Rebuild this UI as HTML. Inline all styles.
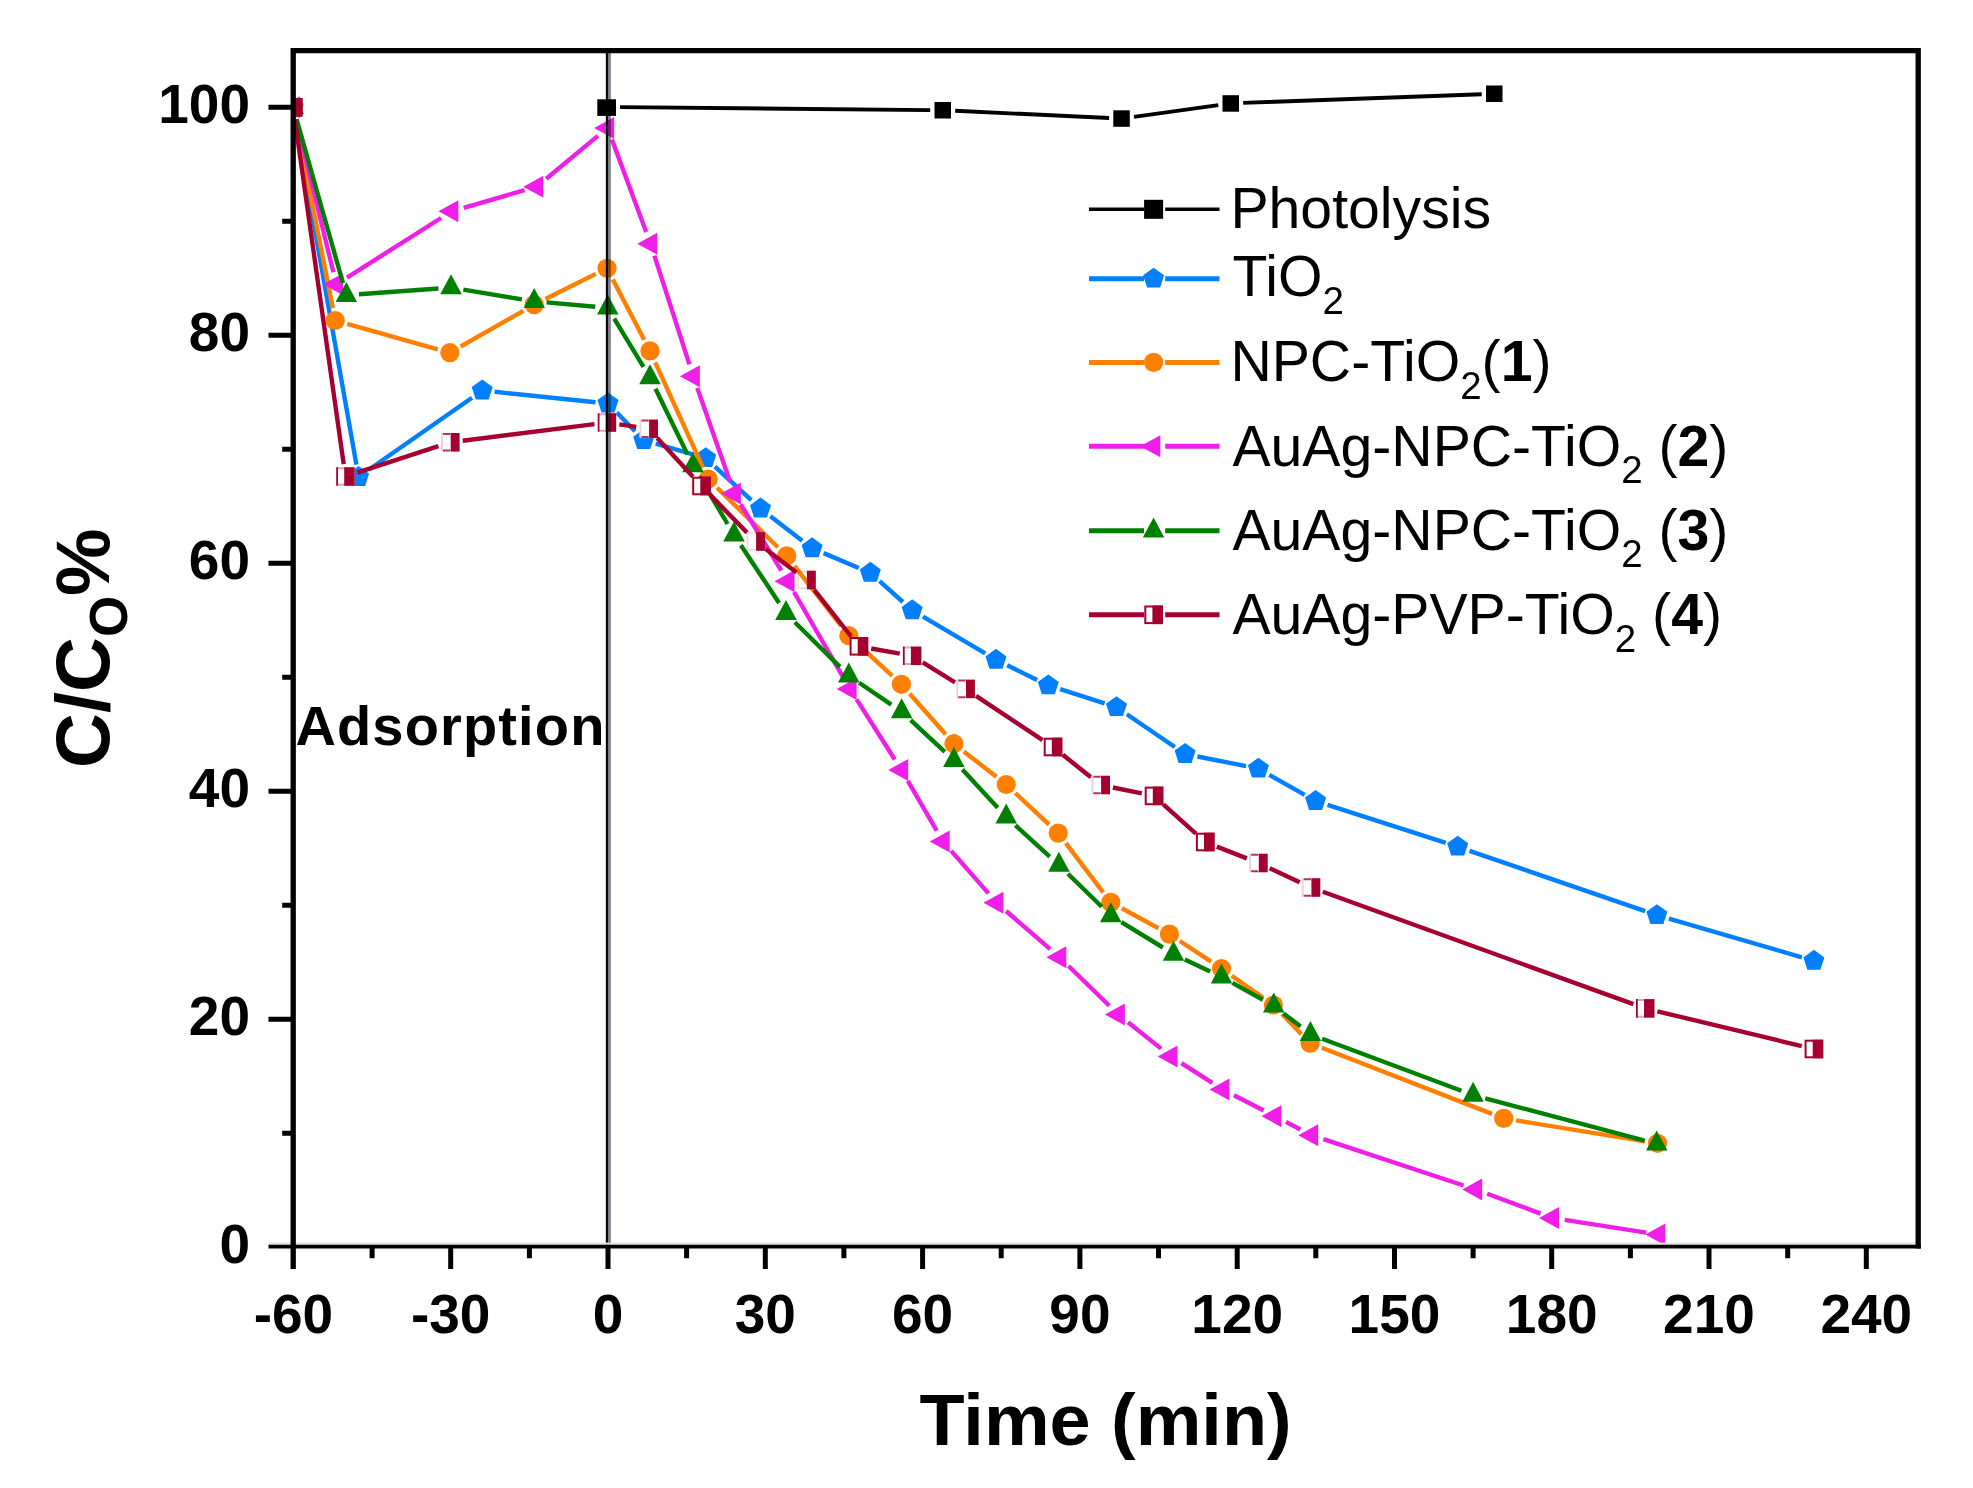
<!DOCTYPE html>
<html lang="en"><head><meta charset="utf-8"><title>Photocatalytic degradation chart</title>
<style>
html,body{margin:0;padding:0;background:#fff;}
body{width:1973px;height:1488px;overflow:hidden;}
svg{display:block;filter:blur(0.6px);}
text{font-family:"Liberation Sans",sans-serif;fill:#000;}
.b{font-weight:bold;}
.tick{font-size:55px;font-weight:bold;}
.leg{font-size:57.2px;}
.sub{font-size:38.5px;}
</style></head><body>
<svg width="1973" height="1488" viewBox="0 0 1973 1488">
<rect width="1973" height="1488" fill="#fff"/>
<defs><clipPath id="plot"><rect x="293.2" y="50.6" width="1625" height="1196"/></clipPath></defs>

<g clip-path="url(#plot)">
<g id="s-black">
<path d="M620 107.1L930.2 110.1M955.2 110.8L1109.1 118M1134 116.9L1218.3 105.1M1243.2 102.9L1481.7 94.2" stroke="#000000" stroke-width="3.9" fill="none"/>
<rect x="934.5" y="102" width="16.5" height="16.5" fill="#000000"/>
<rect x="1113.3" y="110.3" width="16.5" height="16.5" fill="#000000"/>
<rect x="1222.5" y="95.2" width="16.5" height="16.5" fill="#000000"/>
<rect x="1486" y="85.5" width="16.5" height="16.5" fill="#000000"/>
</g>
<g id="s-blue">
<path d="M295.4 119.6L356.4 464.7M368.8 469.8L472 397.7M494.6 391.8L595.6 402.2M616.7 412.5L635 431.2M655.7 443.7L693.7 454.7M714.9 466.7L751.3 500.1M770.4 516.2L802.2 540.7M823.6 553.1L858.8 568M879.6 581.1L902.9 602M923 616.7L985.2 653.4M1007.2 665.3L1037.1 679.9M1060.2 689.2L1104.6 703.4M1126.8 714.2L1174.8 747M1197.4 756.5L1246.1 766.2M1269.3 774.8L1304.7 794.9M1327.5 804.8L1445.8 842.9M1469.5 850.8L1645.1 911.1M1668.9 918.7L1801.9 957.3" stroke="#0080ff" stroke-width="4.4" fill="none"/>
<polygon points="293.2,96.3 303.7,103.9 299.7,116.2 286.7,116.2 282.7,103.9" fill="#0080ff"/>
<polygon points="358.6,466 369.1,473.6 365.1,485.9 352.1,485.9 348.1,473.6" fill="#0080ff"/>
<polygon points="482.2,379.5 492.7,387.1 488.7,399.4 475.7,399.4 471.7,387.1" fill="#0080ff"/>
<polygon points="608,392.5 618.5,400.1 614.5,412.4 601.5,412.4 597.5,400.1" fill="#0080ff"/>
<polygon points="643.7,429.2 654.2,436.8 650.2,449.1 637.2,449.1 633.2,436.8" fill="#0080ff"/>
<polygon points="705.7,447.2 716.2,454.8 712.2,467.1 699.2,467.1 695.2,454.8" fill="#0080ff"/>
<polygon points="760.5,497.6 771,505.2 767,517.5 754,517.5 750,505.2" fill="#0080ff"/>
<polygon points="812.1,537.3 822.6,544.9 818.6,557.2 805.6,557.2 801.6,544.9" fill="#0080ff"/>
<polygon points="870.3,561.8 880.8,569.4 876.8,581.7 863.8,581.7 859.8,569.4" fill="#0080ff"/>
<polygon points="912.2,599.3 922.7,606.9 918.7,619.2 905.7,619.2 901.7,606.9" fill="#0080ff"/>
<polygon points="996,648.8 1006.5,656.4 1002.5,668.7 989.5,668.7 985.5,656.4" fill="#0080ff"/>
<polygon points="1048.3,674.4 1058.8,682 1054.8,694.3 1041.8,694.3 1037.8,682" fill="#0080ff"/>
<polygon points="1116.5,696.2 1127,703.8 1123,716.1 1110,716.1 1106,703.8" fill="#0080ff"/>
<polygon points="1185.1,743 1195.6,750.6 1191.6,762.9 1178.6,762.9 1174.6,750.6" fill="#0080ff"/>
<polygon points="1258.4,757.7 1268.9,765.3 1264.9,777.6 1251.9,777.6 1247.9,765.3" fill="#0080ff"/>
<polygon points="1315.6,790 1326.1,797.6 1322.1,809.9 1309.1,809.9 1305.1,797.6" fill="#0080ff"/>
<polygon points="1457.7,835.7 1468.2,843.3 1464.2,855.6 1451.2,855.6 1447.2,843.3" fill="#0080ff"/>
<polygon points="1656.9,904.2 1667.4,911.8 1663.4,924.1 1650.4,924.1 1646.4,911.8" fill="#0080ff"/>
<polygon points="1813.9,949.8 1824.4,957.4 1820.4,969.7 1807.4,969.7 1803.4,957.4" fill="#0080ff"/>
</g>
<g id="s-orange">
<path d="M295.6 119.6L332.8 308.2M347.2 323.9L437.8 349.3M460.7 346.5L523.3 310.8M545.4 299L595.8 273.9M612.8 279.4L644.2 339.8M655.2 362.3L703 467.6M717.1 487.7L777.8 547.2M794.4 565.8L841.1 625.8M858 644.2L892.2 675.8M909.7 693.7L945.6 734.3M963.8 751.4L996.3 776.8M1015.3 793L1049.1 824.6M1065.8 843.1L1103.2 892.4M1121.8 908.3L1158.4 928.2M1179.8 941L1211.1 961.6M1231.7 975.7L1263.2 997.8M1282.1 1014L1301.4 1034.2M1321.8 1047.7L1492 1113.9M1516 1120.4L1645.2 1141.3" stroke="#ff8000" stroke-width="4.4" fill="none"/>
<circle cx="293.2" cy="107.3" r="9.6" fill="#ff8000"/>
<circle cx="335.2" cy="320.5" r="9.6" fill="#ff8000"/>
<circle cx="449.8" cy="352.7" r="9.6" fill="#ff8000"/>
<circle cx="534.2" cy="304.6" r="9.6" fill="#ff8000"/>
<circle cx="607" cy="268.3" r="9.6" fill="#ff8000"/>
<circle cx="650" cy="350.9" r="9.6" fill="#ff8000"/>
<circle cx="708.2" cy="479" r="9.6" fill="#ff8000"/>
<circle cx="786.7" cy="555.9" r="9.6" fill="#ff8000"/>
<circle cx="848.8" cy="635.7" r="9.6" fill="#ff8000"/>
<circle cx="901.4" cy="684.3" r="9.6" fill="#ff8000"/>
<circle cx="953.9" cy="743.7" r="9.6" fill="#ff8000"/>
<circle cx="1006.2" cy="784.5" r="9.6" fill="#ff8000"/>
<circle cx="1058.2" cy="833.1" r="9.6" fill="#ff8000"/>
<circle cx="1110.8" cy="902.4" r="9.6" fill="#ff8000"/>
<circle cx="1169.4" cy="934.1" r="9.6" fill="#ff8000"/>
<circle cx="1221.5" cy="968.5" r="9.6" fill="#ff8000"/>
<circle cx="1273.4" cy="1005" r="9.6" fill="#ff8000"/>
<circle cx="1310.1" cy="1043.2" r="9.6" fill="#ff8000"/>
<circle cx="1503.7" cy="1118.4" r="9.6" fill="#ff8000"/>
<circle cx="1657.5" cy="1143.3" r="9.6" fill="#ff8000"/>
</g>
<g id="s-magenta">
<path d="M296.2 119.4L333.4 272.2M347 277.6L441.1 218M463.7 207.8L524.6 190.2M546.2 178.7L597.9 135.9M611.9 139.6L646.2 232M654.4 255.6L689.4 364.4M697.3 388.1L730.1 481.8M740.7 504.3L781.3 570.5M794 592L843.7 678.1M856.6 699.4L894.8 759.5M907.8 780.8L936.7 830.7M951.2 850.9L988.5 893.4M1006.1 911L1050.2 949.1M1068.5 966L1109.3 1005.8M1128 1022.3L1161.1 1048.6M1181.4 1063.1L1212.3 1082.9M1233.9 1095.3L1263.7 1110.5M1285.9 1121.9L1300.4 1129.5M1323.4 1139.1L1463.6 1185.5M1487.2 1193.8L1540.6 1213.6M1564.7 1219.9L1646.2 1232.6" stroke="#ef1fe8" stroke-width="4.4" fill="none"/>
<polygon points="279.9,107.3 299.9,96.3 299.9,118.3" fill="#ef1fe8"/>
<polygon points="323.1,284.3 343.1,273.3 343.1,295.3" fill="#ef1fe8"/>
<polygon points="438.4,211.3 458.4,200.3 458.4,222.3" fill="#ef1fe8"/>
<polygon points="523.3,186.7 543.3,175.7 543.3,197.7" fill="#ef1fe8"/>
<polygon points="594.2,127.9 614.2,116.9 614.2,138.9" fill="#ef1fe8"/>
<polygon points="637.3,243.7 657.3,232.7 657.3,254.7" fill="#ef1fe8"/>
<polygon points="679.9,376.3 699.9,365.3 699.9,387.3" fill="#ef1fe8"/>
<polygon points="720.9,493.6 740.9,482.6 740.9,504.6" fill="#ef1fe8"/>
<polygon points="774.5,581.2 794.5,570.2 794.5,592.2" fill="#ef1fe8"/>
<polygon points="836.6,688.9 856.6,677.9 856.6,699.9" fill="#ef1fe8"/>
<polygon points="888.2,770 908.2,759 908.2,781" fill="#ef1fe8"/>
<polygon points="929.7,841.5 949.7,830.5 949.7,852.5" fill="#ef1fe8"/>
<polygon points="983.4,902.8 1003.4,891.8 1003.4,913.8" fill="#ef1fe8"/>
<polygon points="1046.3,957.3 1066.3,946.3 1066.3,968.3" fill="#ef1fe8"/>
<polygon points="1104.9,1014.5 1124.9,1003.5 1124.9,1025.5" fill="#ef1fe8"/>
<polygon points="1157.6,1056.4 1177.6,1045.4 1177.6,1067.4" fill="#ef1fe8"/>
<polygon points="1209.5,1089.6 1229.5,1078.6 1229.5,1100.6" fill="#ef1fe8"/>
<polygon points="1261.5,1116.2 1281.5,1105.2 1281.5,1127.2" fill="#ef1fe8"/>
<polygon points="1298.2,1135.2 1318.2,1124.2 1318.2,1146.2" fill="#ef1fe8"/>
<polygon points="1462.2,1189.4 1482.2,1178.4 1482.2,1200.4" fill="#ef1fe8"/>
<polygon points="1539,1218 1559,1207 1559,1229" fill="#ef1fe8"/>
<polygon points="1645.3,1234.5 1665.3,1223.5 1665.3,1245.5" fill="#ef1fe8"/>
</g>
<g id="s-green">
<path d="M296.6 119.3L343 283.2M358.9 294.3L438.5 288.5M463.3 289.6L521.9 299.3M546.6 302.4L595.3 306.8M614.2 318.6L643.5 366.8M655.5 388.7L687.5 454.4M699.4 476.4L727.6 524M740.9 545.2L779.1 603M794.9 622.2L839.9 666.9M859.1 682.7L891.3 704.6M910.7 720.1L944.8 751.9M962.4 769.6L997.7 807.7M1015.4 825.3L1049.7 856.6M1067.9 873.7L1101.8 906.8M1121.4 922.1L1162.9 947.5M1184.8 959.5L1210.2 971.5M1232.4 982.9L1262.9 999.7M1283.6 1013.4L1300.6 1026.6M1322.1 1038.7L1461.4 1090.7M1485.2 1098.3L1644.6 1140.6" stroke="#008000" stroke-width="4.4" fill="none"/>
<polygon points="293.2,94 303.9,114 282.4,114" fill="#008000"/>
<polygon points="346.4,281.9 357.1,301.9 335.6,301.9" fill="#008000"/>
<polygon points="451,274.3 461.8,294.3 440.2,294.3" fill="#008000"/>
<polygon points="534.2,288 545,308 523.5,308" fill="#008000"/>
<polygon points="607.7,294.6 618.5,314.6 597,314.6" fill="#008000"/>
<polygon points="650,364.2 660.8,384.2 639.2,384.2" fill="#008000"/>
<polygon points="693,452.3 703.8,472.3 682.2,472.3" fill="#008000"/>
<polygon points="734,521.5 744.8,541.5 723.2,541.5" fill="#008000"/>
<polygon points="786,600.1 796.8,620.1 775.2,620.1" fill="#008000"/>
<polygon points="848.8,662.4 859.5,682.4 838,682.4" fill="#008000"/>
<polygon points="901.6,698.3 912.4,718.3 890.9,718.3" fill="#008000"/>
<polygon points="953.9,747.1 964.6,767.1 943.1,767.1" fill="#008000"/>
<polygon points="1006.2,803.6 1017,823.6 995.5,823.6" fill="#008000"/>
<polygon points="1058.9,851.7 1069.7,871.7 1048.2,871.7" fill="#008000"/>
<polygon points="1110.8,902.2 1121.5,922.2 1100,922.2" fill="#008000"/>
<polygon points="1173.5,940.8 1184.2,960.8 1162.8,960.8" fill="#008000"/>
<polygon points="1221.5,963.6 1232.2,983.6 1210.8,983.6" fill="#008000"/>
<polygon points="1273.8,992.4 1284.5,1012.4 1263,1012.4" fill="#008000"/>
<polygon points="1310.4,1021 1321.2,1041 1299.7,1041" fill="#008000"/>
<polygon points="1473.1,1081.8 1483.8,1101.8 1462.3,1101.8" fill="#008000"/>
<polygon points="1656.7,1130.5 1667.5,1150.5 1646,1150.5" fill="#008000"/>
</g>
<g id="s-crimson">
<path d="M294.9 119.7L343.7 464.1M357.3 472.6L438.4 446.2M462.7 440.7L594.5 424.1M619.3 424.4L636.3 426.9M657.2 438L693 476.8M710.2 494.9L747 532.6M765.7 549.1L796.5 572.4M814.3 589.8L851.1 636.5M871.2 648.5L899.8 653.6M922.7 662.4L955 682.3M976 695.8L1042.6 740.1M1062.8 754.8L1090.9 777.2M1112.9 787.5L1141.8 793.4M1163.3 804.3L1195.9 833.6M1216.8 846.6L1246.8 858.4M1269.7 868.3L1299.7 882.2M1322.8 891.8L1633.4 1004.1M1657.4 1011.3L1801.7 1046.1" stroke="#a60030" stroke-width="4.4" fill="none"/>
<rect x="284.9" y="99" width="16.6" height="16.6" fill="#fff" stroke="#a60030" stroke-width="2"/><rect x="292" y="98" width="10.5" height="18.6" fill="#a60030"/>
<rect x="336.1" y="467.2" width="18.6" height="18.6" fill="#fff"/><path d="M337.1 467.2V485.8" stroke="#a60030" stroke-width="1.8" fill="none"/><path d="M337.1 468.2H345.4M337.1 484.8H345.4" stroke="#a60030" stroke-opacity="0.35" stroke-width="2" fill="none"/><rect x="344.2" y="467.2" width="10.5" height="18.6" fill="#a60030"/>
<rect x="441" y="433" width="18.6" height="18.6" fill="#fff"/><path d="M443 434H450.3M443 450.6H450.3" stroke="#a60030" stroke-opacity="0.8" stroke-width="2" fill="none"/><path d="M442 433V451.6" stroke="#a60030" stroke-opacity="0.18" stroke-width="2" fill="none"/><rect x="450.7" y="433" width="8.9" height="18.6" fill="#a60030"/>
<rect x="597.6" y="413.2" width="18.6" height="18.6" fill="#fff"/><path d="M598.6 413.2V431.8" stroke="#a60030" stroke-width="1.8" fill="none"/><path d="M598.6 414.2H606.9M598.6 430.8H606.9" stroke="#a60030" stroke-opacity="0.35" stroke-width="2" fill="none"/><rect x="605.7" y="413.2" width="10.5" height="18.6" fill="#a60030"/>
<rect x="639.4" y="419.5" width="18.6" height="18.6" fill="#fff"/><path d="M641.4 420.5H648.7M641.4 437.1H648.7" stroke="#a60030" stroke-opacity="0.8" stroke-width="2" fill="none"/><path d="M640.4 419.5V438.1" stroke="#a60030" stroke-opacity="0.18" stroke-width="2" fill="none"/><rect x="649.1" y="419.5" width="8.9" height="18.6" fill="#a60030"/>
<rect x="693.2" y="477.7" width="16.6" height="16.6" fill="#fff" stroke="#a60030" stroke-width="2"/><rect x="700.3" y="476.7" width="10.5" height="18.6" fill="#a60030"/>
<rect x="747.4" y="533.2" width="16.6" height="16.6" fill="none" stroke="#a60030" stroke-opacity="0.15" stroke-width="2"/><rect x="756.1" y="532.2" width="8.9" height="18.6" fill="#a60030"/>
<rect x="798.2" y="571.7" width="16.6" height="16.6" fill="none" stroke="#a60030" stroke-opacity="0.15" stroke-width="2"/><rect x="806.9" y="570.7" width="8.9" height="18.6" fill="#a60030"/>
<rect x="850.6" y="638" width="16.6" height="16.6" fill="#fff" stroke="#a60030" stroke-width="2"/><rect x="857.7" y="637" width="10.5" height="18.6" fill="#a60030"/>
<rect x="902.8" y="646.5" width="18.6" height="18.6" fill="#fff"/><path d="M903.8 646.5V665.1" stroke="#a60030" stroke-width="1.8" fill="none"/><path d="M903.8 647.5H912.1M903.8 664.1H912.1" stroke="#a60030" stroke-opacity="0.35" stroke-width="2" fill="none"/><rect x="910.9" y="646.5" width="10.5" height="18.6" fill="#a60030"/>
<rect x="956.3" y="679.6" width="18.6" height="18.6" fill="#fff"/><path d="M958.3 680.6H965.6M958.3 697.2H965.6" stroke="#a60030" stroke-opacity="0.8" stroke-width="2" fill="none"/><path d="M957.3 679.6V698.2" stroke="#a60030" stroke-opacity="0.18" stroke-width="2" fill="none"/><rect x="966" y="679.6" width="8.9" height="18.6" fill="#a60030"/>
<rect x="1044.7" y="738.7" width="16.6" height="16.6" fill="#fff" stroke="#a60030" stroke-width="2"/><rect x="1051.8" y="737.7" width="10.5" height="18.6" fill="#a60030"/>
<rect x="1091.4" y="775.7" width="18.6" height="18.6" fill="#fff"/><path d="M1093.4 776.7H1100.7M1093.4 793.3H1100.7" stroke="#a60030" stroke-opacity="0.8" stroke-width="2" fill="none"/><path d="M1092.4 775.7V794.3" stroke="#a60030" stroke-opacity="0.18" stroke-width="2" fill="none"/><rect x="1101.1" y="775.7" width="8.9" height="18.6" fill="#a60030"/>
<rect x="1145.7" y="787.6" width="16.6" height="16.6" fill="#fff" stroke="#a60030" stroke-width="2"/><rect x="1152.8" y="786.6" width="10.5" height="18.6" fill="#a60030"/>
<rect x="1196.9" y="833.7" width="16.6" height="16.6" fill="#fff" stroke="#a60030" stroke-width="2"/><rect x="1204" y="832.7" width="10.5" height="18.6" fill="#a60030"/>
<rect x="1249.1" y="853.7" width="18.6" height="18.6" fill="#fff"/><path d="M1251.1 854.7H1258.4M1251.1 871.3H1258.4" stroke="#a60030" stroke-opacity="0.8" stroke-width="2" fill="none"/><path d="M1250.1 853.7V872.3" stroke="#a60030" stroke-opacity="0.18" stroke-width="2" fill="none"/><rect x="1258.8" y="853.7" width="8.9" height="18.6" fill="#a60030"/>
<rect x="1301.7" y="878.2" width="18.6" height="18.6" fill="#fff"/><path d="M1303.7 879.2H1311M1303.7 895.8H1311" stroke="#a60030" stroke-opacity="0.8" stroke-width="2" fill="none"/><path d="M1302.7 878.2V896.8" stroke="#a60030" stroke-opacity="0.18" stroke-width="2" fill="none"/><rect x="1311.4" y="878.2" width="8.9" height="18.6" fill="#a60030"/>
<rect x="1635.9" y="999.1" width="18.6" height="18.6" fill="#fff"/><path d="M1636.9 999.1V1017.7" stroke="#a60030" stroke-width="1.8" fill="none"/><path d="M1636.9 1000.1H1645.2M1636.9 1016.7H1645.2" stroke="#a60030" stroke-opacity="0.35" stroke-width="2" fill="none"/><rect x="1644" y="999.1" width="10.5" height="18.6" fill="#a60030"/>
<rect x="1805.6" y="1040.7" width="16.6" height="16.6" fill="#fff" stroke="#a60030" stroke-width="2"/><rect x="1812.7" y="1039.7" width="10.5" height="18.6" fill="#a60030"/>
</g>
</g>
<line x1="609.35" y1="50.6" x2="609.35" y2="1246.6" stroke="#10101c" stroke-opacity="0.55" stroke-width="2.9"/>
<line x1="606.9" y1="50.6" x2="606.9" y2="1246.6" stroke="#000" stroke-width="2.1"/>
<rect x="597.3" y="99.3" width="18.7" height="16.6" fill="#000"/>
<rect x="268.5" y="1242.6" width="1652.3" height="2.2" fill="#e2e2e2"/>
<path d="M293.2 1269V50.6H1918.2V1248.4" stroke="#000" stroke-width="5.3" fill="none" stroke-linejoin="miter"/>
<line x1="268.5" y1="1246.6" x2="1920.9" y2="1246.6" stroke="#000" stroke-width="3.6"/>
<path d="M282.2 1133.3H293.2M268.5 1019.3H293.2M282.2 905.3H293.2M268.5 791.3H293.2M282.2 677.3H293.2M268.5 563.3H293.2M282.2 449.3H293.2M268.5 335.3H293.2M282.2 221.3H293.2M268.5 107.3H293.2M372.1 1246.6V1258.2M450.7 1246.6V1269M529.4 1246.6V1258.2M608 1246.6V1269M686.6 1246.6V1258.2M765.3 1246.6V1269M843.9 1246.6V1258.2M922.6 1246.6V1269M1001.2 1246.6V1258.2M1079.9 1246.6V1269M1158.5 1246.6V1258.2M1237.2 1246.6V1269M1315.8 1246.6V1258.2M1394.5 1246.6V1269M1473.1 1246.6V1258.2M1551.7 1246.6V1269M1630.4 1246.6V1258.2M1709 1246.6V1269M1787.7 1246.6V1258.2M1866.3 1246.6V1269" stroke="#000" stroke-width="5" fill="none"/>
<text class="tick" x="250" y="1262.9" text-anchor="end">0</text>
<text class="tick" x="250" y="1034.9" text-anchor="end">20</text>
<text class="tick" x="250" y="806.9" text-anchor="end">40</text>
<text class="tick" x="250" y="578.9" text-anchor="end">60</text>
<text class="tick" x="250" y="350.9" text-anchor="end">80</text>
<text class="tick" x="250" y="122.9" text-anchor="end">100</text>
<text class="tick" x="293.4" y="1332.5" text-anchor="middle">-60</text>
<text class="tick" x="450.7" y="1332.5" text-anchor="middle">-30</text>
<text class="tick" x="608" y="1332.5" text-anchor="middle">0</text>
<text class="tick" x="765.3" y="1332.5" text-anchor="middle">30</text>
<text class="tick" x="922.6" y="1332.5" text-anchor="middle">60</text>
<text class="tick" x="1079.9" y="1332.5" text-anchor="middle">90</text>
<text class="tick" x="1237.2" y="1332.5" text-anchor="middle">120</text>
<text class="tick" x="1394.5" y="1332.5" text-anchor="middle">150</text>
<text class="tick" x="1551.7" y="1332.5" text-anchor="middle">180</text>
<text class="tick" x="1709" y="1332.5" text-anchor="middle">210</text>
<text class="tick" x="1866.3" y="1332.5" text-anchor="middle">240</text>
<text class="b" x="1105.6" y="1445.4" text-anchor="middle" font-size="72" textLength="372" lengthAdjust="spacingAndGlyphs">Time (min)</text>
<text class="b" transform="translate(108.6 768) rotate(-90)" font-size="76">C/C<tspan font-size="53" dy="18.4">O</tspan><tspan dy="-18.4">%</tspan></text>
<text class="b" x="295.4" y="744.8" font-size="56" textLength="309" lengthAdjust="spacing">Adsorption</text>
<path d="M1089 209.3H1144M1165.2 209.3H1219.5" stroke="#000000" stroke-width="3.4" fill="none"/>
<rect x="1144.1" y="199.8" width="19" height="19" fill="#000000"/>
<text class="leg" x="1230.4" y="228">Photolysis</text>
<path d="M1089 278.7H1144M1165.2 278.7H1219.5" stroke="#0080ff" stroke-width="5.0" fill="none"/>
<polygon points="1153.6,267.7 1164.1,275.3 1160.1,287.6 1147.1,287.6 1143.1,275.3" fill="#0080ff"/>
<text class="leg" x="1232.4" y="296.2">TiO<tspan class="sub" dy="17.7">2</tspan></text>
<path d="M1089 362.4H1144M1165.2 362.4H1219.5" stroke="#ff8000" stroke-width="5.0" fill="none"/>
<circle cx="1153.6" cy="362.4" r="9.6" fill="#ff8000"/>
<text class="leg" x="1230.4" y="381.3">NPC-TiO<tspan class="sub" dy="17.7">2</tspan><tspan dy="-17.7">(</tspan><tspan class="b">1</tspan>)</text>
<path d="M1089 446.3H1148.6M1165.2 446.3H1219.5" stroke="#ef1fe8" stroke-width="5.0" fill="none"/>
<polygon points="1140.3,446.3 1160.3,435.3 1160.3,457.3" fill="#ef1fe8"/>
<text class="leg" x="1232.4" y="465.6">AuAg-NPC-TiO<tspan class="sub" dy="17.7">2</tspan><tspan dy="-17.7"> (</tspan><tspan class="b">2</tspan>)</text>
<path d="M1089 530.8H1144M1165.2 530.8H1219.5" stroke="#008000" stroke-width="5.0" fill="none"/>
<polygon points="1153.6,517.5 1164.3,537.5 1142.8,537.5" fill="#008000"/>
<text class="leg" x="1232.4" y="549.7">AuAg-NPC-TiO<tspan class="sub" dy="17.7">2</tspan><tspan dy="-17.7"> (</tspan><tspan class="b">3</tspan>)</text>
<path d="M1089 614.8H1144M1165.2 614.8H1219.5" stroke="#a60030" stroke-width="5.0" fill="none"/>
<rect x="1145.3" y="606.5" width="16.6" height="16.6" fill="#fff" stroke="#a60030" stroke-width="2"/><rect x="1152.4" y="605.5" width="10.5" height="18.6" fill="#a60030"/>
<text class="leg" x="1232.4" y="634.2">AuAg-PVP-TiO<tspan class="sub" dy="17.7">2</tspan><tspan dy="-17.7"> (</tspan><tspan class="b">4</tspan>)</text>
</svg></body></html>
